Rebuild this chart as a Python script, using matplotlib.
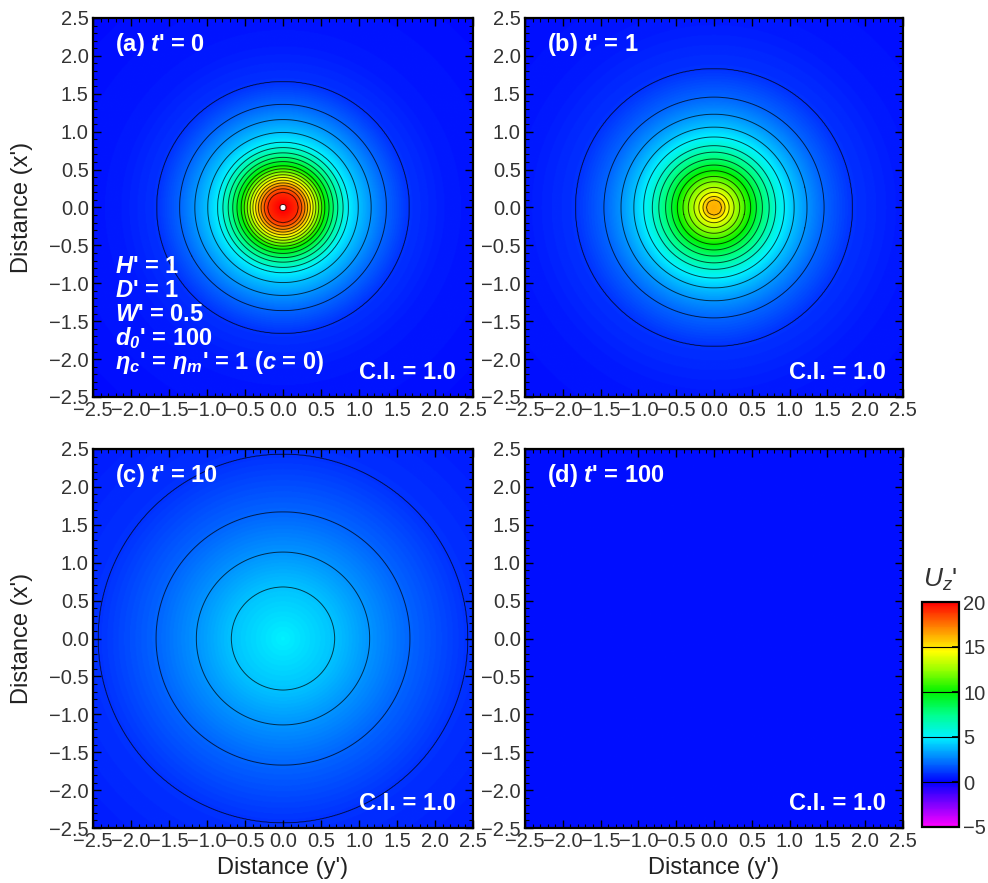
import numpy as np
import matplotlib
import matplotlib.pyplot as plt
from matplotlib.colors import LinearSegmentedColormap, Normalize
from matplotlib.ticker import MultipleLocator, FuncFormatter

plt.rcParams['font.family'] = ['Liberation Sans', 'DejaVu Sans']
plt.rcParams['mathtext.fontset'] = 'custom'
plt.rcParams['mathtext.rm'] = 'Liberation Sans'
plt.rcParams['mathtext.it'] = 'Liberation Sans:italic'
plt.rcParams['mathtext.bf'] = 'Liberation Sans:bold'
plt.rcParams['mathtext.bfit'] = 'Liberation Sans:italic:bold'

# radial profiles of Uz' (radius, value)
radius_a = [0, 0.04, 0.20, 0.27, 0.36, 0.45, 0.55, 0.70, 0.86, 0.99, 1.16, 1.36, 1.66, 2.2, 3.6]
uz_a = [20.6, 20.0, 19.0, 17.5, 15.0, 12.5, 10.0, 7.3, 5.0, 4.0, 3.0, 2.0, 1.0, 0.5, 0.2]

radius_b = [0, 0.1, 0.145, 0.20, 0.265, 0.34, 0.41, 0.485, 0.56, 0.64, 0.73, 0.815,
            0.93, 1.06, 1.23, 1.455, 1.83, 2.5, 3.6]
uz_b = [16.3, 16.0, 15.0, 14.0, 13.0, 12.0, 11.0, 10.0, 9.0, 8.0, 7.0, 6.0,
        5.0, 4.0, 3.0, 2.0, 1.0, 0.5, 0.25]

radius_c = [0, 0.68, 1.14, 1.67, 2.43, 3.6]
uz_c = [5.0, 4.0, 3.0, 2.0, 1.0, 0.5]

radius_d = [0, 3.6]
uz_d = [0.3, 0.3]

panel_titles = ["(a) $\\mathbfit{t}$' = 0", "(b) $\\mathbfit{t}$' = 1",
                "(c) $\\mathbfit{t}$' = 10", "(d) $\\mathbfit{t}$' = 100"]
params_text = ["$\\mathbfit{H}$' = 1",
               "$\\mathbfit{D}$' = 1",
               "$\\mathbfit{W}$' = 0.5",
               "$\\mathbfit{d}_{\\mathbfit{0}}$' = 100",
               "$\\mathbfit{\\eta}_{\\mathbfit{c}}$' = $\\mathbfit{\\eta}_{\\mathbfit{m}}$' = 1 ($\\mathbfit{c}$ = 0)"]
contour_levels = np.arange(1, 21, 1)
cbar_ticks = [-5, 0, 5, 10, 15, 20]

# colour scale: magenta -> blue -> cyan -> green -> yellow -> red
cmap = LinearSegmentedColormap.from_list('uz', [
    (0.0, (1.0, 0.0, 1.0)),
    (0.2, (0.0, 0.0, 1.0)),
    (0.28, (0.0, 0.4, 1.0)),
    (0.4, (0.0, 0.95, 1.0)),
    (0.5, (0.0, 1.0, 0.55)),
    (0.6, (0.0, 0.95, 0.0)),
    (0.7, (0.6, 1.0, 0.0)),
    (0.78, (1.0, 1.0, 0.0)),
    (0.86, (1.0, 0.65, 0.0)),
    (1.0, (1.0, 0.0, 0.0))])
cmap.set_over('white')
norm = Normalize(vmin=-5, vmax=20)

g = np.linspace(-2.5, 2.5, 501)
X, Y = np.meshgrid(g, g)
R = np.hypot(X, Y)

fmt = FuncFormatter(lambda v, p: ('%.1f' % v).replace('-', '\u2212'))

fig = plt.figure(figsize=(9.88, 8.83), dpi=100)
W, H = 988, 883
boxes = [(93, 18, 473, 397), (525, 18, 903, 397),
         (93, 449, 473, 828), (525, 449, 903, 828)]
profiles = [(radius_a, uz_a), (radius_b, uz_b), (radius_c, uz_c), (radius_d, uz_d)]

tick_col = '#333333'
for i, ((l, t, r, b), (rp, up)) in enumerate(zip(boxes, profiles)):
    ax = fig.add_axes([l / W, 1 - b / H, (r - l) / W, (b - t) / H])
    U = np.interp(R, rp, up)
    ax.imshow(U, cmap=cmap, norm=norm, origin='lower', extent=(-2.5, 2.5, -2.5, 2.5),
              aspect='auto', interpolation='bilinear')
    if U.max() > 1:
        ax.contour(X, Y, U, levels=contour_levels, colors='black', linewidths=0.7, alpha=0.7)
    ax.set_xlim(-2.5, 2.5)
    ax.set_ylim(-2.5, 2.5)
    ax.xaxis.set_major_locator(MultipleLocator(0.5))
    ax.yaxis.set_major_locator(MultipleLocator(0.5))
    ax.xaxis.set_minor_locator(MultipleLocator(0.1))
    ax.yaxis.set_minor_locator(MultipleLocator(0.1))
    ax.xaxis.set_major_formatter(fmt)
    ax.yaxis.set_major_formatter(fmt)
    ax.tick_params(which='both', direction='in', top=True, right=True, color='black')
    ax.tick_params(which='major', length=6, width=1.0, labelsize=14.5, labelcolor=tick_col, pad=3)
    ax.tick_params(which='minor', length=3, width=0.8)
    for s in ax.spines.values():
        s.set_linewidth(1.6)
    ax.text(0.058, 0.93, panel_titles[i], transform=ax.transAxes, color='white',
            fontsize=17, fontweight='bold', va='center', ha='left')
    ax.text(0.955, 0.065, 'C.I. = 1.0', transform=ax.transAxes, color='white',
            fontsize=17, fontweight='bold', va='center', ha='right')
    if i == 0:
        for k, s in enumerate(params_text):
            ax.text(0.058, 0.345 - k * 0.0635, s, transform=ax.transAxes, color='white',
                    fontsize=17, fontweight='bold', va='center', ha='left')
    if i in (0, 2):
        ax.set_ylabel("Distance (x')", fontsize=17, color='#222222', labelpad=12)
    if i in (2, 3):
        ax.set_xlabel("Distance (y')", fontsize=17, color='#222222', labelpad=4)

# colour bar
cax = fig.add_axes([922 / W, 1 - 827 / H, 37 / W, 225 / H])
sm = matplotlib.cm.ScalarMappable(norm=norm, cmap=cmap)
cb = fig.colorbar(sm, cax=cax, ticks=cbar_ticks)
cb.outline.set_linewidth(1.6)
cax.yaxis.set_major_formatter(FuncFormatter(lambda v, p: ('%d' % v).replace('-', '\u2212')))
cax.tick_params(direction='in', length=5, width=1.2, labelsize=14.5, labelcolor=tick_col, pad=3)
for v in cbar_ticks[1:-1]:
    cax.axhline(v, color='black', lw=0.8)
cax.text(0.5, 1.04, "$U_z$'", transform=cax.transAxes, fontsize=19, color='#333333',
         ha='center', va='bottom')

fig.savefig('out.png', dpi=100)
